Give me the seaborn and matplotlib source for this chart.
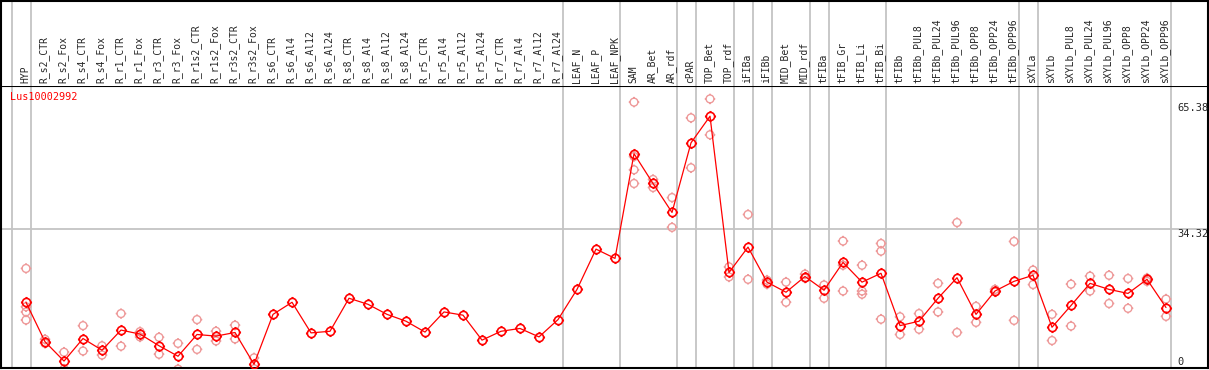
import matplotlib
matplotlib.use('Agg')
import matplotlib.pyplot as plt
import matplotlib.transforms as mtrans
from matplotlib.path import Path
import seaborn as sns
import pandas as pd

# categories along the x axis
categories = ['HYP', 'R_s2_CTR', 'R_s2_Fox', 'R_s4_CTR', 'R_s4_Fox', 'R_r1_CTR', 'R_r1_Fox',
              'R_r3_CTR', 'R_r3_Fox', 'R_r1s2_CTR', 'R_r1s2_Fox', 'R_r3s2_CTR', 'R_r3s2_Fox',
              'R_s6_CTR', 'R_s6_Al4', 'R_s6_Al12', 'R_s6_Al24', 'R_s8_CTR', 'R_s8_Al4',
              'R_s8_Al12', 'R_s8_Al24', 'R_r5_CTR', 'R_r5_Al4', 'R_r5_Al12', 'R_r5_Al24',
              'R_r7_CTR', 'R_r7_Al4', 'R_r7_Al12', 'R_r7_Al24', 'LEAF_N', 'LEAF_P', 'LEAF_NPK',
              'SAM', 'AR_Bet', 'AR_rdf', 'cPAR', 'TOP_Bet', 'TOP_rdf', 'iFIBa', 'iFIBb',
              'MID_Bet', 'MID_rdf', 'tFIBa', 'tFIB_Gr', 'tFIB_Li', 'tFIB_Bi', 'tFIBb',
              'tFIBb_PUL8', 'tFIBb_PUL24', 'tFIBb_PUL96', 'tFIBb_OPP8', 'tFIBb_OPP24',
              'tFIBb_OPP96', 'sXYLa', 'sXYLb', 'sXYLb_PUL8', 'sXYLb_PUL24', 'sXYLb_PUL96',
              'sXYLb_OPP8', 'sXYLb_OPP24', 'sXYLb_OPP96']

# mean expression per sample
means = [16.0, 6.2, 1.4, 7.0, 4.1, 9.1, 8.1, 5.2, 2.6, 8.0, 7.6, 8.5, 0.6,
         13.0, 16.0, 8.4, 8.8, 17.0, 15.5, 13.0, 11.3, 8.6, 13.6, 12.8, 6.6,
         8.8, 9.5, 7.4, 11.7, 19.2, 29.2, 26.9,
         52.9, 45.5, 38.3, 55.6, 62.2, 23.4, 29.7, 21.0, 18.5, 22.4, 19.0,
         25.9, 21.0, 23.2, 10.2, 11.3, 17.0, 22.1, 13.0, 18.8, 21.2,
         22.7, 9.8, 15.2, 20.7, 19.2, 18.2, 21.7, 14.7]

# individual replicate values (empty where only the mean is shown)
replicates = [[24.4, 14.9, 13.6, 11.6], [6.8, 5.8], [3.6, -0.6], [10.2, 3.9], [5.2, 2.9],
              [13.2, 5.1], [8.7, 7.4], [7.3, 3.1], [5.8, -0.6], [11.7, 4.3], [8.8, 6.4],
              [10.3, 6.9], [2.2, -0.5],
              [], [], [], [], [], [], [], [], [], [], [], [], [], [], [], [], [], [], [],
              [65.7, 52.2, 48.9, 45.5], [46.5, 44.5], [42.0, 34.6], [61.8, 49.4],
              [66.5, 57.6], [24.8, 22.3], [37.8, 21.7], [21.5, 20.5], [21.0, 16.0],
              [23.0, 22.0], [20.3, 17.0], [31.2, 25.2, 18.8], [25.2, 18.8, 18.0],
              [30.6, 28.7, 11.8], [12.4, 8.0], [13.2, 9.3], [20.7, 13.6], [35.8, 8.5],
              [15.0, 11.0], [19.2, 18.6], [31.1, 11.5], [24.0, 20.4], [13.0, 6.5],
              [20.5, 10.1], [22.5, 18.8], [22.7, 15.7], [21.9, 14.5], [21.2, 22.0],
              [16.8, 12.5]]

# sample groups end after these indices
group_ends = [-1, 0, 28, 31, 34, 35, 37, 38, 39, 41, 42, 45, 52, 53, 60]
axis_marks = [65.38, 34.32, 0]
gene = 'Lus10002992'

mean_df = pd.DataFrame({'pos': range(len(categories)), 'value': means})
rep_df = pd.DataFrame([(i, v) for i, reps in enumerate(replicates) for v in reps],
                      columns=['pos', 'value'])

sns.set_style('white')
plt.rcParams['font.family'] = ['DejaVu Sans Mono']

# circle with small ticks, like the original symbol
M, L = Path.MOVETO, Path.LINETO
ticks = Path([(0, 1), (0, 1.35), (0, -1), (0, -1.35), (1, 0), (1.35, 0), (-1, 0), (-1.35, 0)],
             [M, L, M, L, M, L, M, L])
tick_circle = Path.make_compound_path(Path.unit_circle(), ticks)

W, H = 1209, 370
fig = plt.figure(figsize=(W / 100, H / 100), dpi=100)
x0, x1 = 1 / W, 1208 / W
ax = fig.add_axes([x0, (H - 368) / H, x1 - x0, (368 - 85.5) / H])
head = fig.add_axes([x0, (H - 85.5) / H, x1 - x0, 85 / H], sharex=ax)

ax.set_xlim(-1.316, 62.21)
ax.set_ylim(-0.32, 69.83)

for g in group_ends:
    ax.axvline(g + 0.24, color='#c4c4c4', lw=1.3, zorder=0)
    head.axvline(g + 0.24, color='#c4c4c4', lw=1.3, zorder=0)
ax.axhline(34.32, color='#c4c4c4', lw=1.3, zorder=0)

sns.scatterplot(data=rep_df, x='pos', y='value', ax=ax, marker=tick_circle, s=58,
                facecolor='none', edgecolor='#ee9999', linewidth=1.0, zorder=2, legend=False)
sns.lineplot(data=mean_df, x='pos', y='value', ax=ax, color='red', lw=0.9, zorder=3,
             marker=tick_circle, markersize=8, markerfacecolor='none',
             markeredgecolor='red', markeredgewidth=1.2)

mark_trans = mtrans.blended_transform_factory(fig.transFigure, ax.transData)
for v in axis_marks:
    ax.text(1177 / W, v, f'{v:g}', transform=mark_trans, fontsize=7.5, ha='left',
            va='bottom' if v == 0 else 'top')

ax.text(10 / W, (H - 97) / H, gene, transform=fig.transFigure, color='red',
        fontsize=7.3, ha='left', va='center')

ax.set_xlabel('')
ax.set_ylabel('')
ax.set_xticks([])
ax.set_yticks([])
for s in ax.spines.values():
    s.set_color('black')
    s.set_linewidth(1.5)

head.set_ylim(0, 1)
for i, name in enumerate(categories):
    head.text(i - 0.05, 0.03, name, rotation=90, ha='center', va='bottom', fontsize=7.0)
head.set_xticks([])
head.set_yticks([])
for s in head.spines.values():
    s.set_color('black')
    s.set_linewidth(1.5)
head.spines['bottom'].set_visible(False)

fig.savefig('out.png', dpi=100)
